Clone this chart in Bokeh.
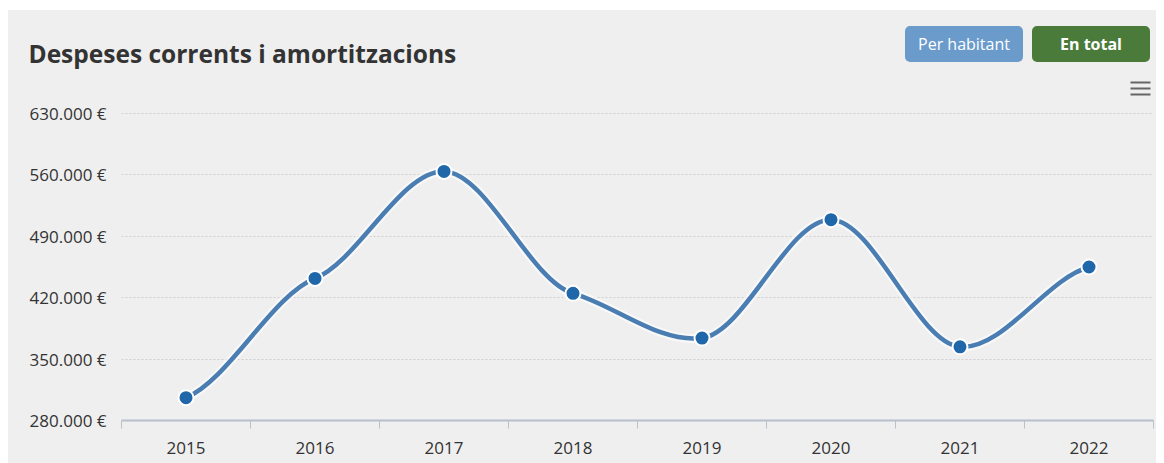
from bokeh.plotting import figure
from bokeh.models import FixedTicker, Label, Range1d
from bokeh.layouts import column
from bokeh.embed import file_html
from bokeh.resources import INLINE

years = ["2015", "2016", "2017", "2018", "2019", "2020", "2021", "2022"]
values = [306000, 442000, 564000, 425000, 374000, 509000, 364000, 455000]
y_ticks = [280000, 350000, 420000, 490000, 560000, 630000]
y_tick_labels = ["280.000 €", "350.000 €", "420.000 €", "490.000 €", "560.000 €", "630.000 €"]
title_text = "Despeses corrents i amortitzacions"
button_labels = ["Per habitant", "En total"]

# page layout (pixels)
PX0, PX1 = 8, 1156          # panel left / right
PY0, HEAD_Y1, PY1 = 10, 100, 463   # panel top, header bottom, panel bottom
FL, FR, FT, FB = 121, 1153, 111, 420   # plot frame in page pixels
Y_TOP_PAD = 2300            # small headroom so the top gridline is not clipped
BG = "#efefef"
FONT = "Open Sans"
W = PX1 - PX0

# ---------- header figure (title, buttons, menu icon) ----------
hdr = figure(width=W, height=HEAD_Y1 - PY0, output_backend="svg", toolbar_location=None,
             x_range=Range1d(PX0, PX1), y_range=Range1d(HEAD_Y1, PY0),
             min_border=0, x_axis_location=None, y_axis_location=None)
hdr.frame_align = False
hdr.background_fill_color = BG
hdr.border_fill_color = BG
hdr.outline_line_color = None
hdr.grid.visible = False

hdr.add_layout(Label(x=28, y=53, text=title_text, text_font=FONT, text_font_style="bold",
                     text_font_size="24.5px", text_color="#333333",
                     text_baseline="alphabetic", text_align="left"))

# padding given as (left, right, top, bottom)
btn_specs = [(963.5, "#6b9bcb", "normal", (13, 13, 7, 7)), (1090.5, "#4a7b3a", "bold", (28, 28, 7, 7))]
for txt, (cx, col, style, pad) in zip(button_labels, btn_specs):
    hdr.add_layout(Label(x=cx, y=43.5, text=txt, text_font=FONT, text_font_style=style,
                         text_font_size="16px", text_color="white", text_align="center",
                         text_baseline="middle", background_fill_color=col,
                         border_radius=5, padding=pad))

menu_x = [1130, 1130, 1130]
menu_y = [82, 88, 94]
hdr.segment(x0=menu_x, y0=menu_y, x1=[x + 20 for x in menu_x], y1=menu_y,
            line_color="#666666", line_width=2)

# ---------- main chart ----------
H = PY1 - HEAD_Y1
xs = list(range(len(years)))
p = figure(width=W, height=H, output_backend="svg", toolbar_location=None,
           x_range=Range1d(-0.5, len(years) - 0.5),
           y_range=Range1d(y_ticks[0], y_ticks[-1] + Y_TOP_PAD),
           min_border_left=FL - PX0, min_border_right=PX1 - FR,
           min_border_top=FT - HEAD_Y1, min_border_bottom=PY1 - FB)
p.frame_align = False
p.background_fill_color = BG
p.border_fill_color = BG
p.outline_line_color = None

def smooth(xv, yv, k=0.45):
    n = len(xv)
    m = []
    for i in range(n):
        if i == 0:
            s = (yv[1] - yv[0]) / (xv[1] - xv[0])
        elif i == n - 1:
            s = (yv[-1] - yv[-2]) / (xv[-1] - xv[-2])
        else:
            s = (yv[i + 1] - yv[i - 1]) / (xv[i + 1] - xv[i - 1])
        m.append(k * s)
    segs = dict(x0=[], y0=[], x1=[], y1=[], cx0=[], cy0=[], cx1=[], cy1=[])
    for i in range(n - 1):
        h = xv[i + 1] - xv[i]
        segs["x0"].append(xv[i]); segs["y0"].append(yv[i])
        segs["x1"].append(xv[i + 1]); segs["y1"].append(yv[i + 1])
        segs["cx0"].append(xv[i] + h / 3); segs["cy0"].append(yv[i] + m[i] * h / 3)
        segs["cx1"].append(xv[i + 1] - h / 3); segs["cy1"].append(yv[i + 1] - m[i + 1] * h / 3)
    return segs

segs = smooth(xs, values)
p.bezier(line_color="white", line_width=9, line_alpha=0.55, **segs)
p.bezier(line_color="#4a7db2", line_width=4.5, **segs)
p.scatter(xs, values, size=15, fill_color="#2067aa", line_color="white", line_width=2)

p.xaxis.ticker = FixedTicker(ticks=xs, minor_ticks=[i - 0.5 for i in range(len(years) + 1)])
p.xaxis.major_label_overrides = {i: y for i, y in enumerate(years)}
p.xaxis.major_tick_out = 0
p.xaxis.major_tick_in = 0
p.xaxis.minor_tick_out = 8
p.xaxis.minor_tick_in = 0
p.xaxis.minor_tick_line_color = "#b8c0cc"
p.xaxis.axis_line_color = "#b8c0cc"
p.xaxis.axis_line_width = 2
p.xaxis.major_label_text_font = FONT
p.xaxis.major_label_text_font_size = "17px"
p.xaxis.major_label_text_color = "#333333"
p.xaxis.major_label_standoff = 13
p.xgrid.grid_line_color = None

p.yaxis.ticker = FixedTicker(ticks=y_ticks)
p.yaxis.major_label_overrides = {t: l for t, l in zip(y_ticks, y_tick_labels)}
p.yaxis.axis_line_color = None
p.yaxis.major_tick_line_color = None
p.yaxis.minor_tick_line_color = None
p.yaxis.major_label_text_font = FONT
p.yaxis.major_label_text_font_size = "17px"
p.yaxis.major_label_text_color = "#333333"
p.yaxis.major_label_text_baseline = "alphabetic"
p.yaxis.major_label_standoff = 9
p.ygrid.grid_line_color = "#cfcfcf"
p.ygrid.grid_line_dash = "2 2"
p.ygrid.grid_line_width = 1

layout = column(hdr, p, spacing=0, margin=(PY0, 0, 0, PX0),
                styles={"background-color": BG})
open("out.html", "w").write(file_html(layout, INLINE))
